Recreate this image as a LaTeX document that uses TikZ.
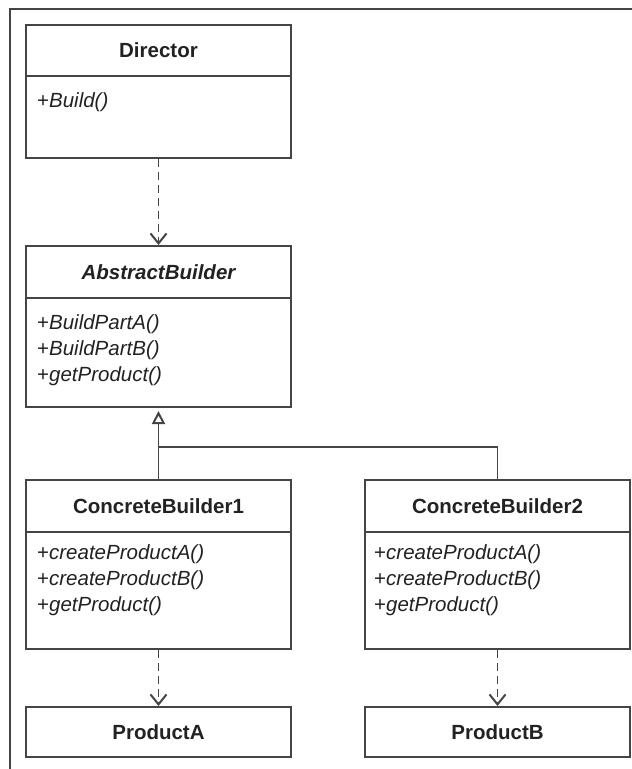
\documentclass[tikz,border=0pt]{standalone}
\usepackage{fontspec}
\setmainfont{Liberation Sans}
\usetikzlibrary{arrows.meta}
\definecolor{ln}{HTML}{454545}
\definecolor{tx}{HTML}{222222}
\begin{document}
\begin{tikzpicture}[x=1pt,y=-1pt,
  box/.style={draw=ln, line width=2pt, anchor=north west, inner sep=0pt, minimum width=265pt},
  title/.style={font=\fontsize{20.5}{24}\selectfont\bfseries, text=tx},
  meth/.style={font=\fontsize{20.5}{24}\selectfont\itshape, text=tx, anchor=base west, inner sep=0pt},
  dep/.style={draw=ln, line width=1.8pt, dash pattern=on 8pt off 5pt, -{Straight Barb[length=10pt,width=16pt,line width=2pt]}},
  inh/.style={draw=ln, line width=1.8pt},
]
\useasboundingbox (0,0) rectangle (632,769);
\fill[white] (0,0) rectangle (632,769);
% frame
\draw[ln, line width=1.8pt] (10,769) -- (10,9) -- (632,9);

% Director
\node[box, title, minimum height=51pt] (dirH) at (25,24) {Director};
\node[box, minimum height=82pt] (dirB) at (25,75) {};
\node[meth] (dirM1) at (37,107) {{\upshape+}Build()};

% AbstractBuilder
\node[box, title, minimum height=52pt] (abH) at (25,245) {\itshape AbstractBuilder};
\node[box, minimum height=109pt] (abB) at (25,297) {};
\node[meth] (abM1) at (37,329) {{\upshape+}BuildPartA()};
\node[meth] (abM2) at (37,355) {{\upshape+}BuildPartB()};
\node[meth] (abM3) at (37,381) {{\upshape+}getProduct()};

% ConcreteBuilder1
\node[box, title, minimum height=52pt] (cb1H) at (25,479) {ConcreteBuilder1};
\node[box, minimum height=117pt] (cb1B) at (25,531) {};
\node[meth] (cb1M1) at (37,559) {{\upshape+}createProductA()};
\node[meth] (cb1M2) at (37,585) {{\upshape+}createProductB()};
\node[meth] (cb1M3) at (37,611) {{\upshape+}getProduct()};

% ConcreteBuilder2
\node[box, title, minimum height=52pt] (cb2H) at (364,479) {ConcreteBuilder2};
\node[box, minimum height=117pt] (cb2B) at (364,531) {};
\node[meth] (cb2M1) at (374,559) {{\upshape+}createProductA()};
\node[meth] (cb2M2) at (374,585) {{\upshape+}createProductB()};
\node[meth] (cb2M3) at (374,611) {{\upshape+}getProduct()};

% Products
\node[box, title, minimum height=50pt] (pa) at (25,706) {ProductA};
\node[box, title, minimum height=50pt] (pb) at (364,706) {ProductB};

% connectors
\draw[dep] (dirB.south) -- (abH.north);
\draw[dep] (cb1B.south) -- (pa.north);
\draw[dep] (cb2B.south) -- (pb.north);

\coordinate (j) at (157.5,447);
\draw[inh, -{Triangle[open, length=13pt, width=13pt, line width=2pt]}] (cb1H.north) -- ([yshift=-3pt]abB.south);
\draw[inh] (cb2H.north) |- (j);
\end{tikzpicture}
\end{document}
